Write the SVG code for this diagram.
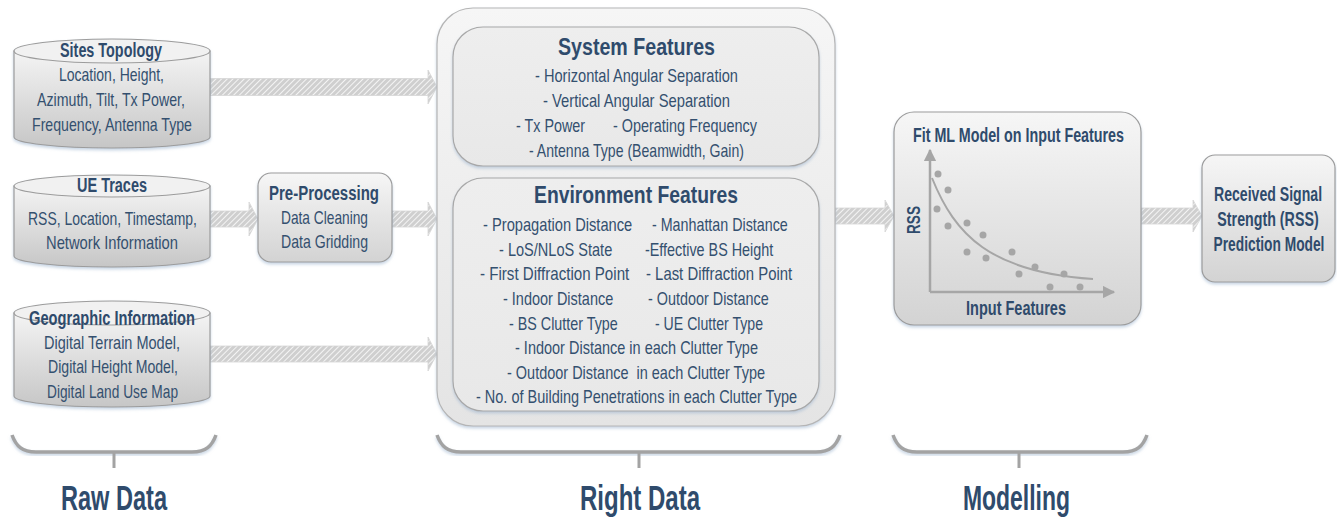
<svg xmlns="http://www.w3.org/2000/svg" width="1337" height="518" viewBox="0 0 1337 518">
<defs>
  <style>
    text { font-family: "Liberation Sans", Arial, sans-serif; fill: #2F4B6C; }
    .t { font-size: 18.5px; fill: #34506F; }
    .h { font-size: 19.5px; font-weight: bold; }
    .big { font-size: 24px; font-weight: bold; }
    .lab { font-size: 35px; font-weight: bold; }
    .node { stroke: #9C9C9C; stroke-width: 1.2; }
    .arrow { fill: url(#hatch); stroke: #D6D6D6; stroke-width: 0.8; }
    .brace { fill: none; stroke: #A3A3A3; stroke-width: 3.5; }
    .tick { stroke: #A3A3A3; stroke-width: 3; }
  </style>
  <pattern id="hatch" patternUnits="userSpaceOnUse" width="4" height="4" patternTransform="rotate(45)">
    <rect width="4" height="4" fill="#CFCFCF"/>
    <line x1="0.5" y1="0" x2="0.5" y2="4" stroke="#F4F4F4" stroke-width="1"/>
  </pattern>
  <linearGradient id="gBox" x1="0" y1="0" x2="0" y2="1">
    <stop offset="0" stop-color="#F6F6F6"/>
    <stop offset="1" stop-color="#D3D3D3"/>
  </linearGradient>
  <linearGradient id="gCyl" x1="0" y1="0" x2="0" y2="1">
    <stop offset="0" stop-color="#F4F4F4"/>
    <stop offset="1" stop-color="#C6C6C6"/>
  </linearGradient>
  <linearGradient id="gOuter" x1="0" y1="0" x2="0" y2="1">
    <stop offset="0" stop-color="#F6F6F6"/>
    <stop offset="1" stop-color="#E4E4E4"/>
  </linearGradient>
  <linearGradient id="gInner" x1="0" y1="0" x2="0" y2="1">
    <stop offset="0" stop-color="#EEEEEE"/>
    <stop offset="1" stop-color="#E8E8E8"/>
  </linearGradient>
  <filter id="sh" x="-10%" y="-10%" width="120%" height="130%">
    <feDropShadow dx="0" dy="2" stdDeviation="1.5" flood-color="#9DB4CF" flood-opacity="0.55"/>
  </filter>
  <marker id="ah" viewBox="0 0 10 10" refX="9" refY="5" markerWidth="5" markerHeight="5" orient="auto">
    <path d="M0,0 L10,5 L0,10 Z" fill="#A6A6A6"/>
  </marker>
</defs>

<g id="connectors">
  <polygon class="arrow" points="210,78.5 428,78.5 428,70 437,87 428,104 428,95.5 210,95.5"/>
  <polygon class="arrow" points="210,211 249,211 249,202 258,219 249,236 249,227 210,227"/>
  <polygon class="arrow" points="392,211 428,211 428,202 437,219 428,236 428,227 392,227"/>
  <polygon class="arrow" points="210,346 428,346 428,337 437,354 428,371 428,362 210,362"/>
  <polygon class="arrow" points="835,208 885,208 885,200 894,216 885,232 885,224 835,224"/>
  <polygon class="arrow" points="1141,208 1193,208 1193,200 1202,216 1193,232 1193,224 1141,224"/>
</g>

<g id="sites-topology" filter="url(#sh)">
  <path class="node" fill="url(#gCyl)" d="M14,51 L14,137 A98,11 0 0 0 210,137 L210,51 Z"/>
  <ellipse class="node" cx="112" cy="51" rx="98" ry="12" fill="#F1F1F1"/>
</g>
<g id="sites-topology-text">
  <text class="h" x="60" y="57" textLength="102" lengthAdjust="spacingAndGlyphs">Sites Topology</text>
  <text class="t" x="59" y="81" textLength="105" lengthAdjust="spacingAndGlyphs">Location, Height,</text>
  <text class="t" x="37" y="106" textLength="148" lengthAdjust="spacingAndGlyphs">Azimuth, Tilt, Tx Power,</text>
  <text class="t" x="32" y="131" textLength="160" lengthAdjust="spacingAndGlyphs">Frequency, Antenna Type</text>
</g>

<g id="ue-traces" filter="url(#sh)">
  <path class="node" fill="url(#gCyl)" d="M14,186 L14,256 A98,11 0 0 0 210,256 L210,186 Z"/>
  <ellipse class="node" cx="112" cy="186" rx="98" ry="11" fill="#F1F1F1"/>
</g>
<g id="ue-traces-text">
  <text class="h" x="77" y="192" textLength="70" lengthAdjust="spacingAndGlyphs">UE Traces</text>
  <text class="t" x="28" y="225" textLength="169" lengthAdjust="spacingAndGlyphs">RSS, Location, Timestamp,</text>
  <text class="t" x="46" y="249" textLength="132" lengthAdjust="spacingAndGlyphs">Network Information</text>
</g>

<g id="geographic-information" filter="url(#sh)">
  <path class="node" fill="url(#gCyl)" d="M14,313 L14,396 A98,11 0 0 0 210,396 L210,313 Z"/>
  <ellipse class="node" cx="112" cy="313" rx="98" ry="12" fill="#F1F1F1"/>
</g>
<g id="geographic-information-text">
  <text class="h" x="29" y="325" textLength="166" lengthAdjust="spacingAndGlyphs">Geographic Information</text>
  <text class="t" x="44" y="349" textLength="136" lengthAdjust="spacingAndGlyphs">Digital Terrain Model,</text>
  <text class="t" x="48" y="373" textLength="130" lengthAdjust="spacingAndGlyphs">Digital Height Model,</text>
  <text class="t" x="47" y="398" textLength="131" lengthAdjust="spacingAndGlyphs">Digital Land Use Map</text>
</g>

<g id="pre-processing">
  <rect class="node" x="258" y="173" width="134" height="89" rx="13" fill="url(#gBox)" filter="url(#sh)"/>
  <text class="h" x="269" y="200" textLength="110" lengthAdjust="spacingAndGlyphs">Pre-Processing</text>
  <text class="t" x="281" y="224" textLength="87" lengthAdjust="spacingAndGlyphs">Data Cleaning</text>
  <text class="t" x="281" y="248" textLength="87" lengthAdjust="spacingAndGlyphs">Data Gridding</text>
</g>

<g id="right-data">
  <rect x="437" y="8" width="398" height="418" rx="36" fill="url(#gOuter)" stroke="#B5B5B5" stroke-width="1.2" filter="url(#sh)"/>
</g>

<g id="system-features">
  <rect x="453" y="27" width="366" height="139" rx="30" fill="url(#gInner)" stroke="#A8A8A8" stroke-width="1.2" filter="url(#sh)"/>
  <text class="big" x="558" y="55" textLength="157" lengthAdjust="spacingAndGlyphs">System Features</text>
  <text class="t" x="535" y="82" textLength="203" lengthAdjust="spacingAndGlyphs">- Horizontal Angular Separation</text>
  <text class="t" x="543" y="107" textLength="187" lengthAdjust="spacingAndGlyphs">- Vertical Angular Separation</text>
  <text class="t" transform="translate(516,132) scale(0.75,1)" textLength="92" lengthAdjust="spacingAndGlyphs">- Tx Power</text>
  <text class="t" transform="translate(613,132) scale(0.75,1)" textLength="192" lengthAdjust="spacingAndGlyphs">- Operating Frequency</text>
  <text class="t" x="529" y="157" textLength="215" lengthAdjust="spacingAndGlyphs">- Antenna Type (Beamwidth, Gain)</text>
</g>

<g id="environment-features">
  <rect x="453" y="178" width="366" height="233" rx="30" fill="url(#gInner)" stroke="#A8A8A8" stroke-width="1.2" filter="url(#sh)"/>
  <text class="big" x="534" y="203" textLength="204" lengthAdjust="spacingAndGlyphs">Environment Features</text>
  <text class="t" transform="translate(483,231) scale(0.75,1)" textLength="199" lengthAdjust="spacingAndGlyphs">- Propagation Distance</text>
  <text class="t" transform="translate(652,231) scale(0.75,1)" textLength="181" lengthAdjust="spacingAndGlyphs">- Manhattan Distance</text>
  <text class="t" transform="translate(499,256) scale(0.75,1)" textLength="151" lengthAdjust="spacingAndGlyphs">- LoS/NLoS State</text>
  <text class="t" transform="translate(645,256) scale(0.75,1)" textLength="171" lengthAdjust="spacingAndGlyphs">-Effective BS Height</text>
  <text class="t" transform="translate(480,280) scale(0.75,1)" textLength="199" lengthAdjust="spacingAndGlyphs">- First Diffraction Point</text>
  <text class="t" transform="translate(646,280) scale(0.75,1)" textLength="195" lengthAdjust="spacingAndGlyphs">- Last Diffraction Point</text>
  <text class="t" transform="translate(503,305) scale(0.75,1)" textLength="147" lengthAdjust="spacingAndGlyphs">- Indoor Distance</text>
  <text class="t" transform="translate(648,305) scale(0.75,1)" textLength="161" lengthAdjust="spacingAndGlyphs">- Outdoor Distance</text>
  <text class="t" transform="translate(509,330) scale(0.75,1)" textLength="145" lengthAdjust="spacingAndGlyphs">- BS Clutter Type</text>
  <text class="t" transform="translate(655,330) scale(0.75,1)" textLength="144" lengthAdjust="spacingAndGlyphs">- UE Clutter Type</text>
  <text class="t" x="515" y="354" textLength="243" lengthAdjust="spacingAndGlyphs">- Indoor Distance in each Clutter Type</text>
  <text class="t" x="507" y="379" textLength="258" lengthAdjust="spacingAndGlyphs" xml:space="preserve">- Outdoor Distance  in each Clutter Type</text>
  <text class="t" x="476" y="403" textLength="321" lengthAdjust="spacingAndGlyphs">- No. of Building Penetrations in each Clutter Type</text>
</g>

<g id="modelling">
  <rect class="node" x="894" y="112" width="247" height="213" rx="20" fill="url(#gBox)" filter="url(#sh)"/>
  <text class="h" x="913" y="142" textLength="211" lengthAdjust="spacingAndGlyphs" style="font-size:20px">Fit ML Model on Input Features</text>
  <line x1="930" y1="292" x2="930" y2="150" stroke="#A6A6A6" stroke-width="2.5" marker-end="url(#ah)"/>
  <line x1="930" y1="292" x2="1114" y2="292" stroke="#A6A6A6" stroke-width="2.5" marker-end="url(#ah)"/>
  <path d="M932,178 C955,235 990,272 1093,279" fill="none" stroke="#A6A6A6" stroke-width="2"/>
  <g fill="#A6A6A6">
    <circle cx="938" cy="174" r="3.5"/>
    <circle cx="948" cy="190" r="3.5"/>
    <circle cx="937" cy="209" r="3.5"/>
    <circle cx="948" cy="226" r="3.5"/>
    <circle cx="967" cy="223" r="3.5"/>
    <circle cx="983" cy="235" r="3.5"/>
    <circle cx="967" cy="252" r="3.5"/>
    <circle cx="986" cy="258" r="3.5"/>
    <circle cx="1012" cy="252" r="3.5"/>
    <circle cx="1035" cy="267" r="3.5"/>
    <circle cx="1019" cy="274" r="3.5"/>
    <circle cx="1064" cy="274" r="3.5"/>
    <circle cx="1050" cy="287" r="3.5"/>
    <circle cx="1080" cy="287" r="3.5"/>
  </g>
  <text class="h" transform="translate(920,234) rotate(-90)" x="0" y="0" textLength="28" lengthAdjust="spacingAndGlyphs" style="font-size:18px">RSS</text>
  <text class="h" x="966" y="315" textLength="100" lengthAdjust="spacingAndGlyphs" style="font-size:20px">Input Features</text>
</g>

<g id="rss-prediction-model">
  <rect class="node" x="1202" y="155" width="133" height="127" rx="13" fill="url(#gBox)" filter="url(#sh)"/>
  <text class="h" transform="translate(1268,201) scale(0.68,1)" text-anchor="middle" x="0" y="0" textLength="159" lengthAdjust="spacingAndGlyphs" style="font-size:20.5px">Received Signal</text>
  <text class="h" transform="translate(1268,226) scale(0.68,1)" text-anchor="middle" x="0" y="0" textLength="149" lengthAdjust="spacingAndGlyphs" style="font-size:20.5px">Strength (RSS)</text>
  <text class="h" transform="translate(1269,251) scale(0.68,1)" text-anchor="middle" x="0" y="0" textLength="163" lengthAdjust="spacingAndGlyphs" style="font-size:20.5px">Prediction Model</text>
</g>

<g id="raw-data-label">
  <path class="brace" filter="url(#sh)" d="M12,435 C16,446 22,452 36,452 L192,452 C206,452 212,446 216,435"/>
  <line class="tick" x1="114" y1="452" x2="114" y2="468"/>
  <text class="lab" x="61" y="510" textLength="106" lengthAdjust="spacingAndGlyphs">Raw Data</text>
</g>
<g id="right-data-label">
  <path class="brace" filter="url(#sh)" d="M437,435 C441,446 447,452 461,452 L816,452 C830,452 836,446 840,435"/>
  <line class="tick" x1="639" y1="452" x2="639" y2="468"/>
  <text class="lab" x="580" y="510" textLength="120" lengthAdjust="spacingAndGlyphs">Right Data</text>
</g>
<g id="modelling-label">
  <path class="brace" filter="url(#sh)" d="M893,435 C897,446 903,452 917,452 L1123,452 C1137,452 1143,446 1147,435"/>
  <line class="tick" x1="1019" y1="452" x2="1019" y2="468"/>
  <text class="lab" x="963" y="510" textLength="107" lengthAdjust="spacingAndGlyphs">Modelling</text>
</g>
</svg>
